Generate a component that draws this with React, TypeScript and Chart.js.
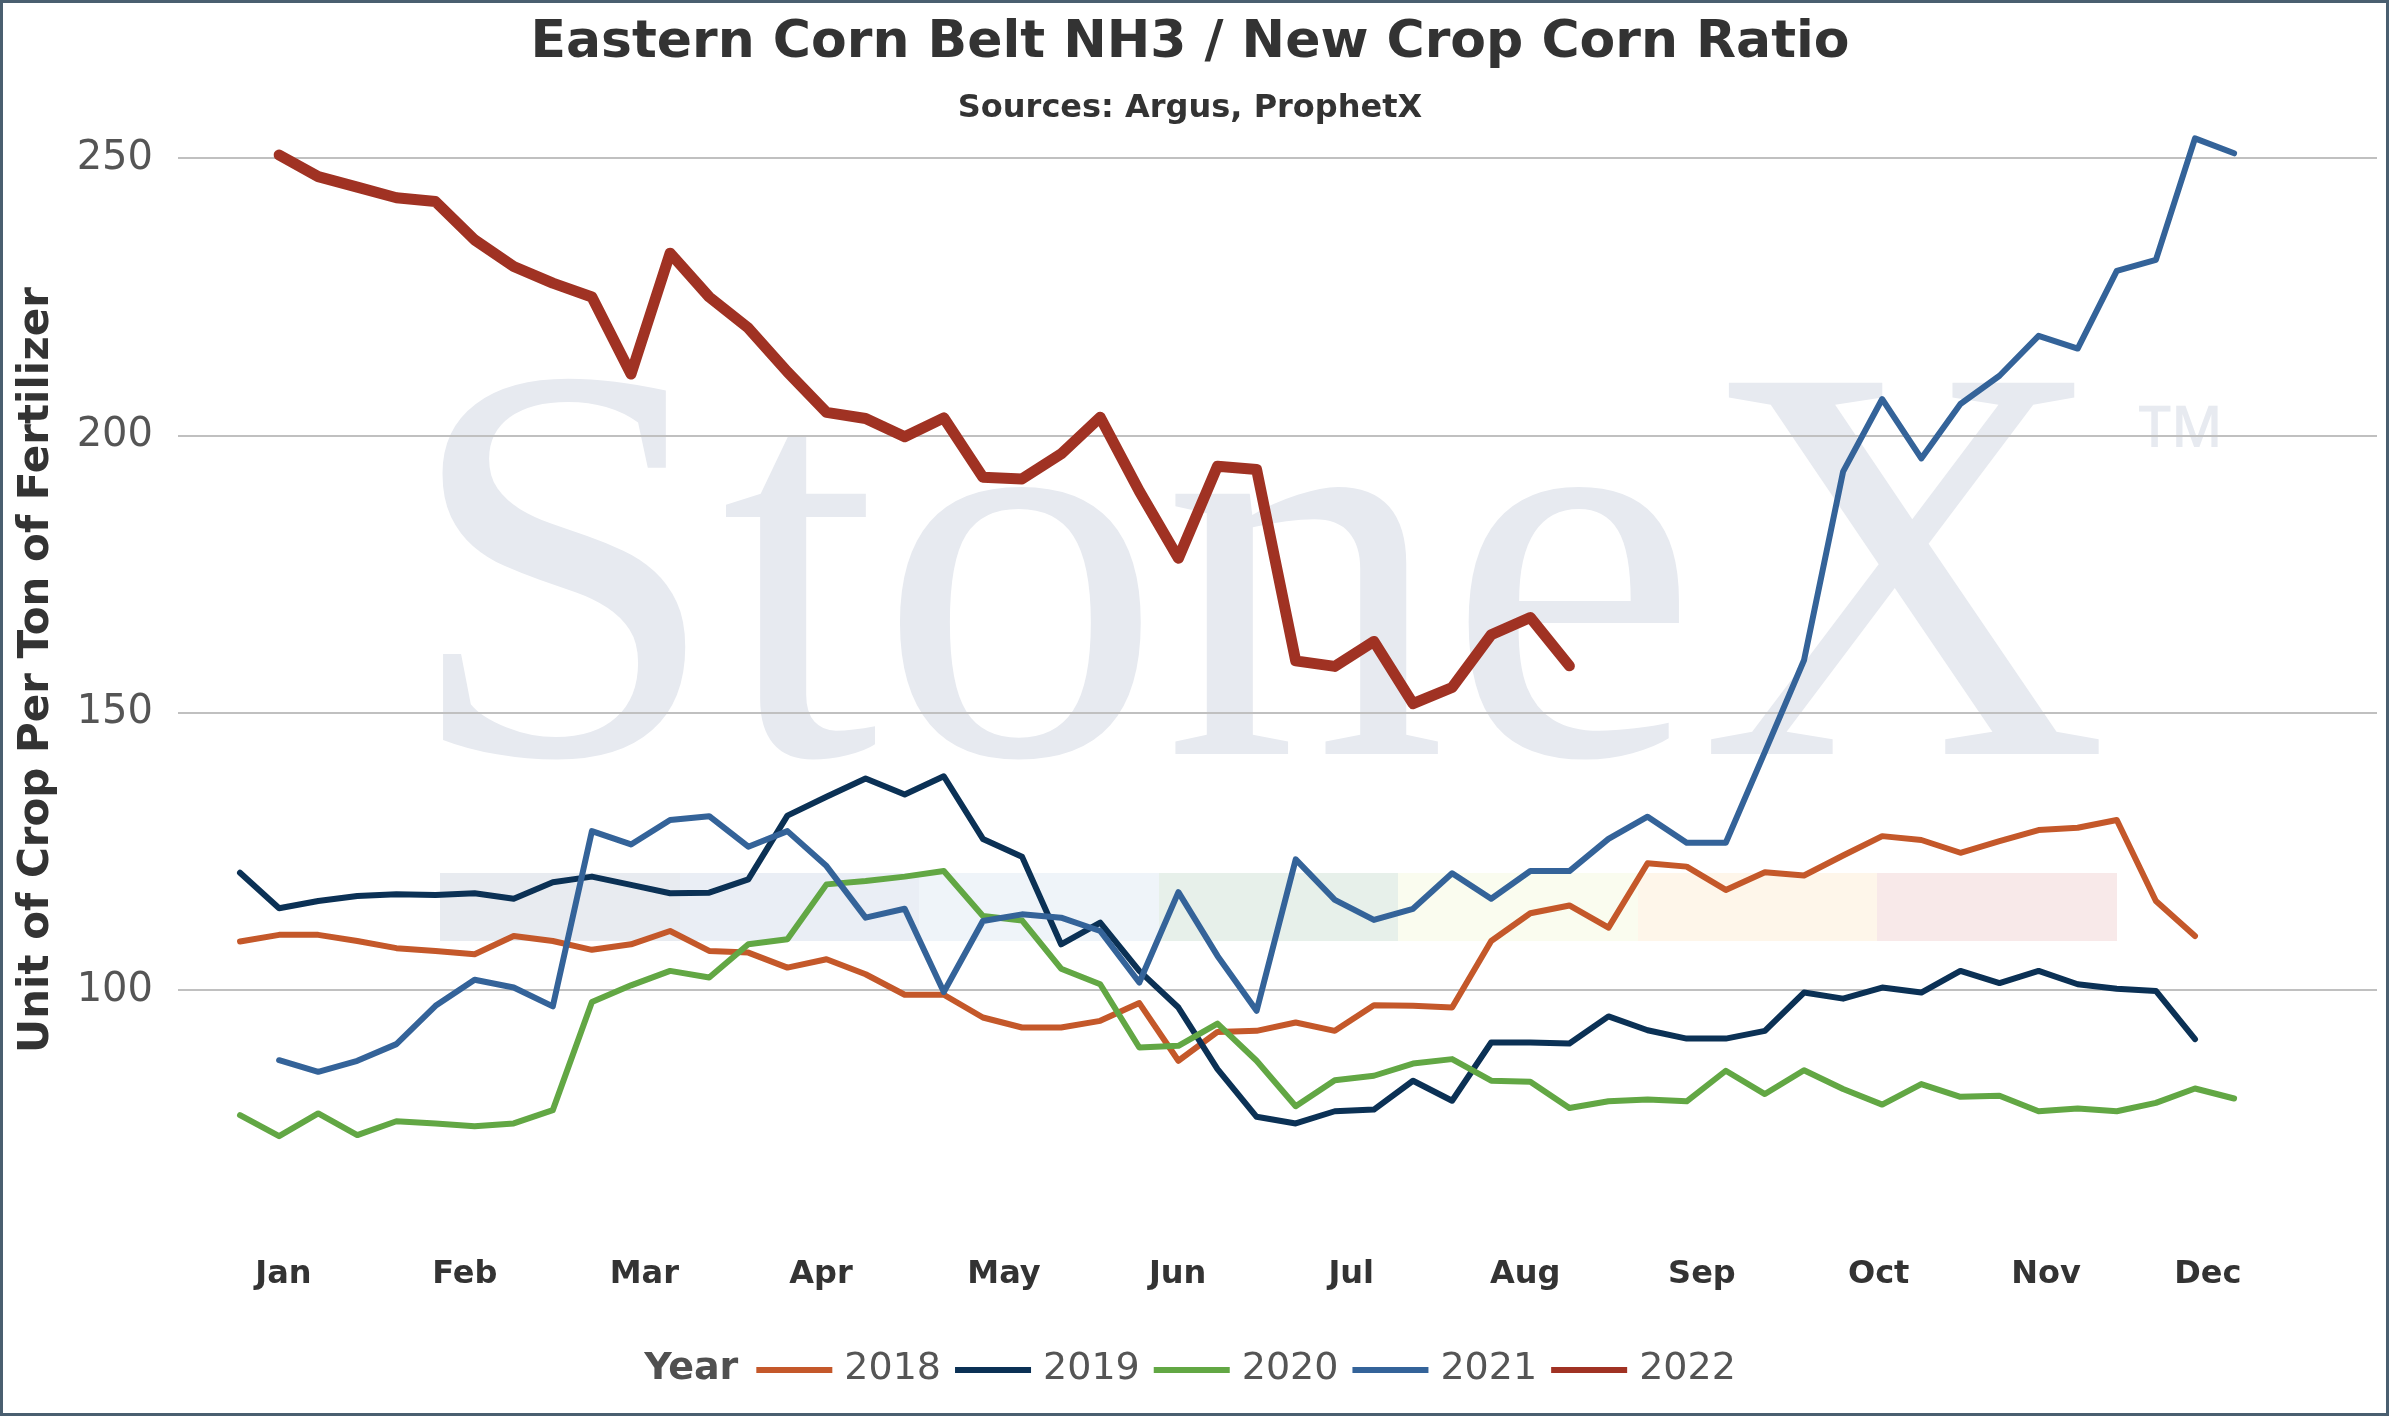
import { useEffect, useRef } from 'react';
import { Chart, registerables } from 'chart.js';

Chart.register(...registerables);

// weekly readings, x = week slot on the shared weekly grid
const MONTHS = ['Jan', 'Feb', 'Mar', 'Apr', 'May', 'Jun', 'Jul', 'Aug', 'Sep', 'Oct', 'Nov', 'Dec'];
const MONTH_WEEKS = [1.11, 5.75, 10.34, 14.86, 19.54, 23.98, 28.42, 32.87, 37.39, 41.91, 46.19, 50.33];
const Y_TICKS = [100, 150, 200, 250];

const YEARS = ['2018', '2019', '2020', '2021', '2022'];
const FIRST_WEEK = [0, 0, 0, 1, 1];

const R2018 = [
  108.8, 110.0, 110.0, 108.9, 107.6, 107.1, 106.5, 109.8, 108.9, 107.3,
  108.3, 110.7, 107.1, 106.8, 104.1, 105.6, 102.9, 99.2, 99.2, 95.1,
  93.3, 93.3, 94.5, 97.7, 87.3, 92.5, 92.7, 94.2, 92.7, 97.3,
  97.2, 96.9, 108.9, 113.9, 115.3, 111.3, 122.9, 122.3, 118.1, 121.3,
  120.7, 124.3, 127.8, 127.1, 124.8, 126.9, 128.9, 129.3, 130.7, 116.1, 109.8,
];
const R2019 = [
  121.2, 114.8, 116.1, 117.0, 117.3, 117.2, 117.5, 116.5, 119.5, 120.5,
  119.0, 117.5, 117.6, 120.0, 131.5, 134.9, 138.2, 135.3, 138.6, 127.3,
  124.1, 108.3, 112.2, 103.5, 96.9, 85.8, 77.2, 76.0, 78.2, 78.5,
  83.7, 80.1, 90.6, 90.6, 90.4, 95.3, 92.8, 91.3, 91.3, 92.7,
  99.6, 98.5, 100.5, 99.6, 103.5, 101.3, 103.5, 101.1, 100.3, 99.9, 91.2,
];
const R2020 = [
  77.5, 73.7, 77.8, 73.9, 76.4, 76.0, 75.5, 76.0, 78.4, 97.9,
  100.9, 103.5, 102.3, 108.3, 109.2, 119.1, 119.7, 120.5, 121.5, 113.4,
  112.6, 103.9, 101.1, 89.7, 90.0, 94.0, 87.3, 79.1, 83.8, 84.6,
  86.8, 87.6, 83.7, 83.5, 78.8, 80.0, 80.3, 80.0, 85.5, 81.3,
  85.6, 82.2, 79.4, 83.1, 80.8, 81.0, 78.2, 78.7, 78.2, 79.7, 82.3, 80.5,
];
const R2021 = [
  87.4, 85.3, 87.3, 90.3, 97.2, 101.9, 100.5, 97.1, 128.7,
  126.3, 130.7, 131.4, 125.9, 128.7, 122.4, 113.1, 114.7, 99.7, 112.5,
  113.7, 113.1, 110.7, 101.4, 117.7, 106.2, 96.3, 123.6, 116.3, 112.7,
  114.7, 121.1, 116.5, 121.5, 121.5, 127.3, 131.3, 126.6, 126.6, 143.0,
  159.5, 193.5, 206.6, 195.9, 205.7, 210.8, 218.0, 215.7, 229.7, 231.7, 253.6, 250.9,
];
const R2022 = [
  250.6, 246.7, 244.8, 242.9, 242.2, 235.3, 230.5, 227.5, 225.0,
  211.1, 232.9, 225.0, 219.4, 211.5, 204.2, 203.1, 199.8, 203.2, 192.5,
  192.2, 196.7, 203.3, 190.0, 177.9, 194.5, 193.9, 159.4, 158.4, 162.9,
  151.7, 154.6, 164.1, 167.2, 158.5,
];
const SERIES = [R2018, R2019, R2020, R2021, R2022];

const COLORS = ['#c4582a', '#0b3155', '#62a744', '#346399', '#a03223'];
const WIDTHS = [6, 6, 6, 6, 11];
const BAND_COLORS = ['#e8ebf0', '#eaeef5', '#eff4f9', '#e7f0ea', '#fafcef', '#fef6ea', '#f8e9e9'];
const FONT = '"DejaVu Sans", Verdana, sans-serif';
const MARK = '#e7eaf0';

// StoneX logo behind the plot
const watermark = {
  id: 'watermark',
  beforeDraw(chart: Chart) {
    const { ctx, width, height } = chart;
    ctx.save();
    ctx.fillStyle = '#ffffff';
    ctx.fillRect(0, 0, width, height);
    BAND_COLORS.forEach((c, i) => {
      const x0 = Math.round(437 + i * 239.5);
      const x1 = Math.round(437 + (i + 1) * 239.5);
      ctx.fillStyle = c;
      ctx.fillRect(x0, 870, x1 - x0, 68);
    });
    ctx.fillStyle = MARK;
    ctx.font = '545px "Liberation Serif", serif';
    ctx.textBaseline = 'alphabetic';
    const m = ctx.measureText('StoneX');
    const ink = m.actualBoundingBoxLeft + m.actualBoundingBoxRight;
    ctx.translate(437, 751);
    ctx.scale(1667 / ink, 1.04);
    ctx.fillText('StoneX', m.actualBoundingBoxLeft, 0);
    ctx.restore();

    ctx.save();
    ctx.fillStyle = MARK;
    ctx.font = '120px "Liberation Sans", sans-serif';
    const t = ctx.measureText('™');
    const tw = t.actualBoundingBoxLeft + t.actualBoundingBoxRight;
    const th = t.actualBoundingBoxAscent + t.actualBoundingBoxDescent;
    ctx.translate(2136, 402);
    ctx.scale(79 / tw, 42 / th);
    ctx.fillText('™', t.actualBoundingBoxLeft, t.actualBoundingBoxAscent);
    ctx.restore();
  },
};

// "Year  — 2018  — 2019 ..." legend row
const yearLegend = {
  id: 'yearLegend',
  afterDraw(chart: Chart) {
    const { ctx } = chart;
    const y = 1366;
    ctx.save();
    ctx.textBaseline = 'middle';
    ctx.textAlign = 'left';
    ctx.font = `bold 38px ${FONT}`;
    const titleW = ctx.measureText('Year').width;
    ctx.font = `38px ${FONT}`;
    const items = chart.data.datasets.map((ds) => ({
      label: String(ds.label),
      color: ds.borderColor as string,
      w: ctx.measureText(String(ds.label)).width,
    }));
    const total =
      titleW + 18 + items.reduce((s, it) => s + 76 + 12 + it.w, 0) + 14 * (items.length - 1);
    let x = (chart.width - 9) / 2 - total / 2;
    ctx.fillStyle = '#505050';
    ctx.font = `bold 38px ${FONT}`;
    ctx.fillText('Year', x, y);
    x += titleW + 18;
    ctx.font = `38px ${FONT}`;
    items.forEach((it) => {
      ctx.fillStyle = it.color;
      ctx.fillRect(x, y - 2, 76, 6);
      ctx.fillStyle = '#555555';
      ctx.fillText(it.label, x + 88, y);
      x += 76 + 12 + it.w + 14;
    });
    ctx.restore();
  },
};

export default function App() {
  const canvasRef = useRef<HTMLCanvasElement>(null);

  useEffect(() => {
    document.body.style.margin = '0';
    if (!canvasRef.current) return;

    const chart = new Chart(canvasRef.current, {
      type: 'line',
      data: {
        datasets: YEARS.map((year, s) => ({
          label: year,
          data: SERIES[s].map((v, i) => ({ x: FIRST_WEEK[s] + i, y: v })),
          borderColor: COLORS[s],
          backgroundColor: COLORS[s],
          borderWidth: WIDTHS[s],
          borderJoinStyle: 'round' as const,
          borderCapStyle: 'round' as const,
          pointRadius: 0,
          tension: 0,
          order: YEARS.length - s,
        })),
      },
      options: {
        animation: false,
        responsive: true,
        maintainAspectRatio: false,
        layout: { padding: { top: 0, left: 0, right: 9, bottom: 0 } },
        plugins: {
          legend: { display: false },
          tooltip: { enabled: false },
          title: {
            display: true,
            text: 'Eastern Corn Belt NH3 / New Crop Corn Ratio',
            color: '#333333',
            font: { family: FONT, size: 52, weight: 'bold' },
            padding: { top: 9, bottom: 2 },
          },
          subtitle: {
            display: true,
            text: 'Sources: Argus, ProphetX',
            color: '#333333',
            font: { family: FONT, size: 32, weight: 'bold' },
            padding: { top: 13, bottom: 0 },
          },
        },
        scales: {
          x: {
            type: 'linear',
            min: -1.586,
            max: 54.655,
            grid: { display: false },
            border: { display: false },
            afterFit: (scale) => {
              scale.height = 200.8;
            },
            afterBuildTicks: (scale) => {
              scale.ticks = MONTH_WEEKS.map((v) => ({ value: v }));
            },
            ticks: {
              autoSkip: false,
              maxRotation: 0,
              padding: 35.5,
              color: '#333333',
              font: { family: FONT, size: 32, weight: 'bold' },
              callback: (_v, i) => MONTHS[i],
            },
          },
          y: {
            min: 60,
            max: 255.5,
            afterFit: (scale) => {
              scale.width = 175;
            },
            afterBuildTicks: (scale) => {
              scale.ticks = Y_TICKS.map((v) => ({ value: v }));
            },
            grid: { color: '#c0c0c0', lineWidth: 2, drawTicks: false },
            border: { display: false },
            ticks: {
              padding: 25,
              color: '#555555',
              font: { family: FONT, size: 40 },
            },
            title: {
              display: true,
              text: 'Unit of Crop Per Ton of Fertilizer',
              color: '#333333',
              font: { family: FONT, size: 42, weight: 'bold' },
              padding: { top: 9, bottom: 0 },
            },
          },
        },
      },
      plugins: [watermark, yearLegend],
    });

    return () => chart.destroy();
  }, []);

  return (
    <div
      style={{
        width: 2389,
        height: 1416,
        boxSizing: 'border-box',
        border: '3px solid #4a5f70',
        background: '#ffffff',
      }}
    >
      <div style={{ position: 'relative', width: 2383, height: 1410 }}>
        <canvas ref={canvasRef} />
      </div>
    </div>
  );
}
